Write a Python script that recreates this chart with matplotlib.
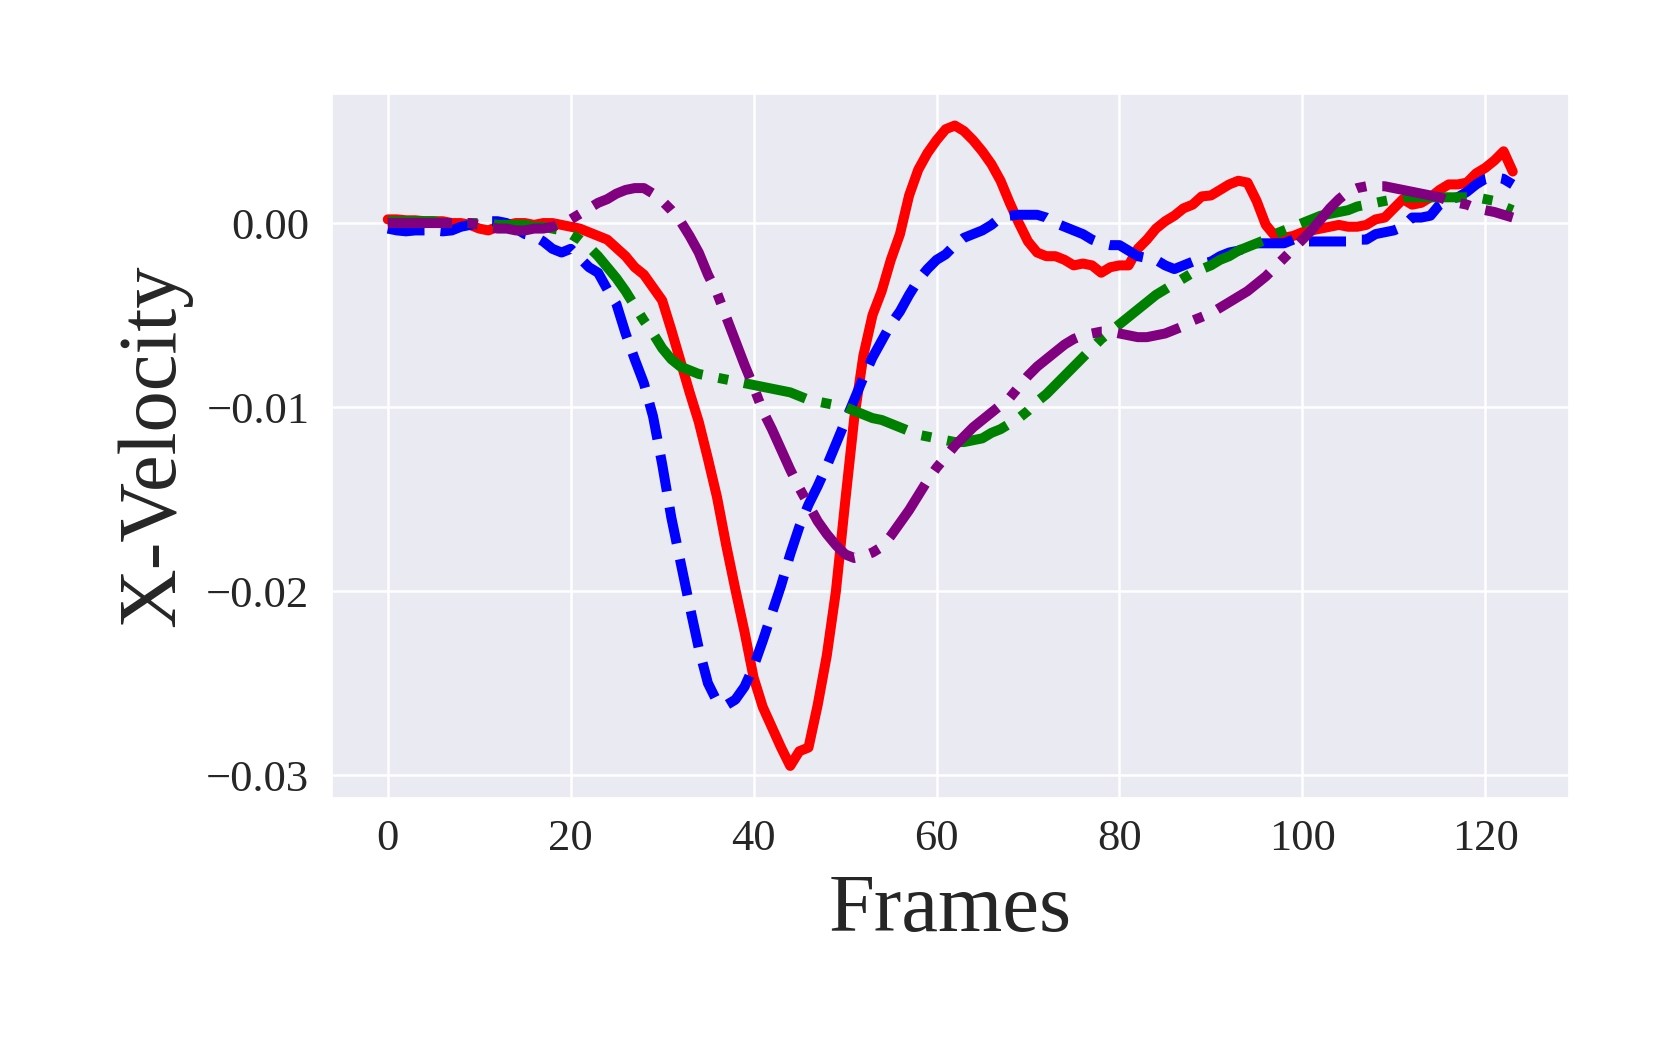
import matplotlib
matplotlib.use("Agg")
import matplotlib.pyplot as plt
import seaborn as sns
import numpy as np

frames = list(range(124))

red_vals = [
    0.0002, 0.0002, 0.00015, 0.00015, 0.0001, 0.0001, 0.0001, 0.0, 0.0, -0.0001,
    -0.0003, -0.0004, -0.0002, -0.0001, 0.0, 0.0, -0.0001, 0.0, 0.0, -0.0001,
    -0.0002, -0.0003, -0.0005, -0.0007, -0.0009, -0.00135, -0.0018, -0.0024, -0.0028, -0.0035,
    -0.0042, -0.0058, -0.0075, -0.0092, -0.0108, -0.0128, -0.0149, -0.0175, -0.0199, -0.0222,
    -0.0247, -0.0263, -0.0274, -0.0285, -0.0295, -0.0287, -0.0285, -0.0262, -0.0235, -0.0200,
    -0.0152, -0.0106, -0.0072, -0.0050, -0.0037, -0.0020, -0.0006, 0.0015, 0.0029, 0.0038,
    0.0045, 0.0051, 0.0053, 0.0050, 0.0045, 0.0039, 0.0032, 0.0023, 0.0011, 0.0,
    -0.0010, -0.0016, -0.0018, -0.0018, -0.0020, -0.0023, -0.0022, -0.0023, -0.0027, -0.0024,
    -0.0023, -0.0023, -0.0014, -0.0009, -0.0003, 0.0001, 0.0004, 0.0008, 0.0010, 0.00145,
    0.0015, 0.0018, 0.0021, 0.0023, 0.0022, 0.0012, -0.0001, -0.0007, -0.0008, -0.0007,
    -0.0005, -0.0004, -0.0003, -0.0002, -0.0001, -0.0002, -0.0002, -0.0001, 0.0002, 0.0003,
    0.0008, 0.0013, 0.0010, 0.0011, 0.0014, 0.0018, 0.0021, 0.0021, 0.0022, 0.0027,
    0.0030, 0.0034, 0.0039, 0.0028,
]

blue_vals = [
    -0.0003, -0.0004, -0.00045, -0.0004, -0.0004, -0.0004, -0.00045, -0.0004, -0.0002, -0.0001,
    0.0, 0.0001, 0.0001, 0.0, -0.0003, -0.0006, -0.0007, -0.0010, -0.0014, -0.0016,
    -0.0014, -0.0019, -0.0024, -0.0027, -0.0036, -0.0044, -0.0060, -0.0074, -0.0087, -0.0105,
    -0.0131, -0.0160, -0.0184, -0.0208, -0.0231, -0.0250, -0.0260, -0.0262, -0.0259, -0.0252,
    -0.0241, -0.0227, -0.0212, -0.0197, -0.0180, -0.0165, -0.0153, -0.0143, -0.0132, -0.0120,
    -0.0108, -0.0096, -0.0084, -0.0073, -0.0064, -0.0055, -0.0048, -0.0039, -0.0031, -0.0025,
    -0.0020, -0.0017, -0.0012, -0.0008, -0.0006, -0.0004, -0.0001, 0.0003, 0.0004, 0.00045,
    0.00045, 0.00045, 0.0003, 0.0, -0.0002, -0.0004, -0.0006, -0.0009, -0.0011, -0.0012,
    -0.0012, -0.0015, -0.0018, -0.0019, -0.0020, -0.0023, -0.0025, -0.0023, -0.0021, -0.0022,
    -0.0021, -0.0018, -0.0016, -0.0015, -0.0013, -0.0011, -0.0011, -0.0011, -0.0011, -0.0009,
    -0.0010, -0.0010, -0.0010, -0.0010, -0.0010, -0.0010, -0.0009, -0.0009, -0.0006, -0.0005,
    -0.0004, -0.0002, 0.0003, 0.0003, 0.0004, 0.0010, 0.0013, 0.0014, 0.0017, 0.0021,
    0.0024, 0.0025, 0.0024, 0.0021,
]

green_vals = [
    0.0001, 0.0001, 0.0001, 0.0001, 0.0001, 0.0001, 0.0, 0.0, 0.0, 0.0,
    0.0, 0.0, -0.0001, -0.0001, -0.0001, -0.0001, -0.0002, -0.0002, -0.0003, -0.0004,
    -0.0006, -0.0009, -0.0013, -0.0018, -0.0024, -0.0030, -0.0037, -0.0045, -0.0053, -0.0060,
    -0.0068, -0.0074, -0.0078, -0.0080, -0.0082, -0.0083, -0.0084, -0.0085, -0.0086, -0.0087,
    -0.0088, -0.0089, -0.0090, -0.0091, -0.0092, -0.0094, -0.0096, -0.0097, -0.0098, -0.0099,
    -0.0100, -0.0102, -0.0104, -0.0106, -0.0107, -0.0109, -0.0111, -0.0113, -0.0115, -0.0116,
    -0.0117, -0.0118, -0.0119, -0.0119, -0.0118, -0.0117, -0.0114, -0.0112, -0.0109, -0.0106,
    -0.0102, -0.0097, -0.0093, -0.0088, -0.0083, -0.0078, -0.0073, -0.0068, -0.0063, -0.0059,
    -0.0055, -0.0051, -0.0047, -0.0043, -0.0039, -0.0036, -0.0033, -0.0030, -0.0027, -0.0025,
    -0.0023, -0.0020, -0.0018, -0.0015, -0.0013, -0.0011, -0.0009, -0.0006, -0.0004, -0.0002,
    0.0, 0.0002, 0.0004, 0.0005, 0.0006, 0.0007, 0.0009, 0.0010, 0.0011, 0.0012,
    0.0013, 0.0014, 0.0014, 0.0014, 0.0014, 0.0014, 0.0014, 0.0014, 0.0014, 0.0014,
    0.0013, 0.0012, 0.0009, 0.0007,
]

purple_vals = [
    0.0, 0.0, 0.0, 0.0, 0.0, 0.0, 0.0, 0.0, 0.0, 0.0,
    -0.0001, -0.0002, -0.0003, -0.0003, -0.0004, -0.0004, -0.0003, -0.0003, -0.0002, 0.0,
    0.0002, 0.0005, 0.0008, 0.0011, 0.0013, 0.0016, 0.0018, 0.0019, 0.0019, 0.0016,
    0.0012, 0.0007, 0.0001, -0.0007, -0.0016, -0.0028, -0.0038, -0.0051, -0.0064, -0.0077,
    -0.0089, -0.0102, -0.0112, -0.0123, -0.0134, -0.0144, -0.0153, -0.0162, -0.0169, -0.0175,
    -0.0180, -0.0182, -0.0181, -0.0179, -0.0176, -0.0170, -0.0163, -0.0156, -0.0148, -0.0140,
    -0.0133, -0.0127, -0.0121, -0.0116, -0.0111, -0.0107, -0.0103, -0.0099, -0.0095, -0.0089,
    -0.0083, -0.0078, -0.0074, -0.0070, -0.0066, -0.0063, -0.0061, -0.0060, -0.0059, -0.0059,
    -0.0060, -0.0061, -0.0062, -0.0062, -0.0061, -0.0060, -0.0058, -0.0056, -0.0053, -0.0051,
    -0.0049, -0.0046, -0.0043, -0.0040, -0.0037, -0.0033, -0.0029, -0.0024, -0.0019, -0.0014,
    -0.0009, -0.0004, 0.0002, 0.0008, 0.0013, 0.0017, 0.0019, 0.0020, 0.0020, 0.0020,
    0.0019, 0.0018, 0.0017, 0.0016, 0.0015, 0.0014, 0.0012, 0.0011, 0.0010, 0.0008,
    0.0007, 0.0006, 0.00045, 0.0003,
]

sns.set_theme(style="darkgrid")
plt.rcParams['font.family'] = ['Liberation Serif', 'DejaVu Serif']
plt.rcParams['grid.linewidth'] = 1.8

fig = plt.figure(figsize=(16.61, 10.39), dpi=100)
ax = fig.add_axes([0.1996, 0.232, 0.745, 0.678])

lw = 7.2
ax.plot(frames, red_vals, color='red', linestyle='-', linewidth=lw,
        solid_capstyle='round', solid_joinstyle='round')
ax.plot(frames, blue_vals, color='blue', linestyle='--', linewidth=lw)
ax.plot(frames, green_vals, color='green', linestyle='-.', linewidth=lw)
ax.plot(frames, purple_vals, color='purple', linestyle='-.', linewidth=lw)

ax.set_xticks([0, 20, 40, 60, 80, 100, 120])
ax.set_yticks([0.0, -0.01, -0.02, -0.03])
ax.yaxis.set_major_formatter(matplotlib.ticker.FuncFormatter(
    lambda v, p: ("\u22120.%02d" % round(abs(v) * 100)) if v < -1e-9 else "0.00"))
ax.tick_params(axis='x', labelsize=32, pad=15.5, length=0)
ax.tick_params(axis='y', labelsize=32, pad=16, length=0)
ax.set_xlabel("Frames", fontsize=59.5, labelpad=10)
ax.set_ylabel("X-Velocity", fontsize=59.5, labelpad=10)

fig.savefig("out.png", dpi=100)
